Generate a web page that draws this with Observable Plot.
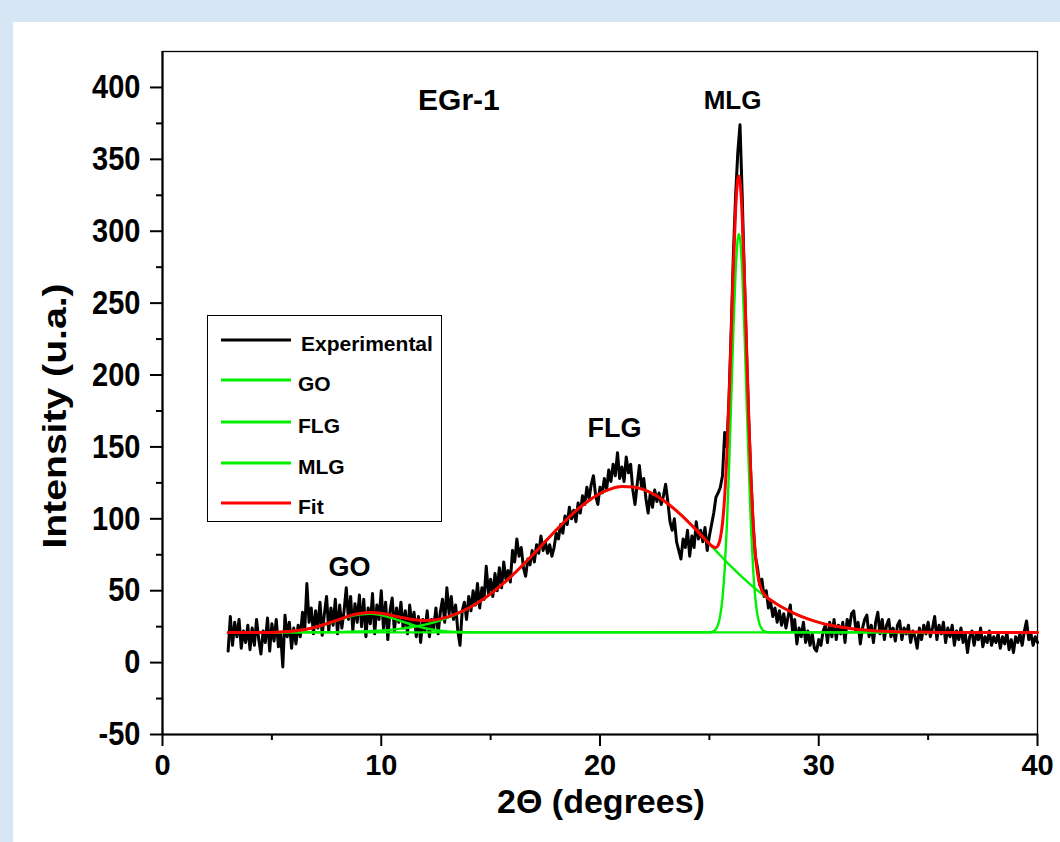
<!DOCTYPE html>
<html>
<head>
<meta charset="utf-8">
<script src="https://cdn.jsdelivr.net/npm/d3@7"></script>
<script src="https://cdn.jsdelivr.net/npm/@observablehq/plot@0.6"></script>
<style>
  html, body { margin: 0; padding: 0; width: 1060px; height: 842px; overflow: hidden;
    background: #d6e6f4; font-family: "Liberation Sans", Arial, sans-serif; }
  #panel { position: absolute; left: 13px; top: 22px; width: 1047px; height: 820px; background: #fff; }
  #chart { position: absolute; left: 0; top: 0; }
  .ttl { position: absolute; font-weight: bold; color: #000; white-space: nowrap; line-height: 1; }
  #ytitle { left: 54px; top: 416px; font-size: 34px; transform: translate(-50%, -50%) rotate(-90deg) scaleX(1.15); }
  #xtitle { left: 601px; top: 801px; font-size: 34px; transform: translate(-50%, -50%); }
  #legend { position: absolute; left: 207px; top: 315px; width: 233px; height: 205px;
    border: 1.5px solid #000; background: #fff; }
  #legend svg { position: absolute; left: 0; top: 0; }
</style>
</head>
<body>
<div id="panel"></div>
<div id="chart"></div>
<div id="ytitle" class="ttl"></div>
<div id="xtitle" class="ttl"></div>
<div id="legend"></div>
<script>
// ---------------- data ----------------
const xLabel = "2\u0398 (degrees)";
const yLabel = "Intensity (u.a.)";
const xMajor = [0, 10, 20, 30, 40];
const xMinor = [5, 15, 25, 35];
const yMajor = [-50, 0, 50, 100, 150, 200, 250, 300, 350, 400];
const yMinor = [-25, 25, 75, 125, 175, 225, 275, 325, 375];

// Experimental pattern: 2θ from 3.0 to 40.0 in 0.1° steps
const expStart = 3.0, expStep = 0.1;
const expY = [8,
  32,12,28,18,30,10,22,14,26,9,
  24,12,30,16,6,22,14,31,8,27,
  15,30,11,20,-3,33,18,28,10,24,
  13,26,18,35,22,55,28,38,20,36,
  24,42,19,34,46,22,38,26,44,20,
  40,24,36,52,30,46,22,41,28,47,
  25,44,18,38,27,48,20,40,30,50,
  24,42,16,36,45,22,38,28,42,24,
  36,20,40,26,35,18,32,14,30,22,
  36,18,30,24,38,20,35,44,28,52,
  34,46,30,40,22,12,36,42,30,46,
  36,50,40,55,38,52,44,67,48,58,
  46,62,50,66,52,70,58,64,56,78,
  70,86,74,80,66,60,72,68,78,70,
  82,76,88,78,84,76,82,74,80,90,
  86,96,90,102,96,108,100,106,98,111,
  104,116,110,122,114,124,130,116,110,122,
  118,128,120,134,126,138,130,146,128,136,
  126,143,132,138,120,110,124,137,122,128,
  114,104,118,108,120,112,118,110,116,124,
  112,98,92,100,84,78,72,86,80,92,
  74,88,80,98,86,92,84,94,78,88,
  96,104,115,118,122,130,160,150,185,232,
  285,325,355,374,325,268,215,168,128,96,
  74,66,54,58,46,50,38,42,32,38,
  28,36,26,34,24,32,40,22,30,13,
  24,18,28,14,22,12,20,10,8,16,
  12,22,26,14,28,18,30,16,26,20,
  28,14,30,24,34,36,22,28,13,24,
  30,33,18,26,14,28,35,20,30,16,
  26,30,18,24,15,26,29,16,24,20,
  26,14,22,18,10,24,16,26,20,28,
  18,24,32,16,26,20,28,14,24,18,
  26,12,22,16,24,14,20,7,18,22,
  12,20,16,24,11,18,14,22,12,18,
  14,20,10,18,13,21,9,16,7,18,
  14,20,12,22,29,16,20,12,18,14];

// Fitted components [2θ, intensity]
const goCurve = [[3,21],[5,21],[5.5,21.4],[6,22.0],[6.5,23.0],[7,24.6],[7.5,26.8],[8,29.4],[8.5,31.9],
  [9,33.5],[9.5,34.0],[10,33.0],[10.5,30.9],[11,28.4],[11.5,25.9],[12,23.9],[12.5,22.5],[13,21.7],
  [13.5,21.3],[14,21.1],[15,21],[40,21]];
const flgCurve = [[3,21],[7,21.1],[8,21.2],[9,21.6],[10,22.3],[10.5,22.9],[11,23.8],[11.5,24.9],[12,26.4],
  [12.5,28.4],[13,30.9],[13.5,34.1],[14,37.9],[14.5,42.5],[15,47.8],[15.5,54.0],[16,60.8],[16.5,68.3],
  [17,76.1],[17.5,84.2],[18,92.2],[18.5,99.9],[19,106.9],[19.5,112.8],[20,117.6],[20.5,120.8],[21,122.4],
  [21.5,122.2],[22,120.3],[22.5,116.7],[23,111.7],[23.5,105.5],[24,98.4],[24.5,90.6],[25,82.6],[25.5,74.5],
  [26,66.7],[26.5,59.4],[27,52.7],[27.5,46.7],[28,41.5],[28.5,37.1],[29,33.4],[29.5,30.4],[30,28.0],
  [30.5,26.1],[31,24.7],[31.5,23.6],[32,22.8],[32.5,22.2],[33,21.8],[33.5,21.5],[34,21.3],[34.5,21.2],
  [35,21.1],[36,21],[40,21]];
const mlgCurve = [[3,21],[25,21.1],[25.1,21.3],[25.2,21.9],[25.3,23.3],[25.4,26.5],[25.5,33.0],[25.6,45.0],
  [25.7,65.1],[25.8,95.3],[25.9,135.9],[26.0,183.6],[26.1,232.1],[26.2,272.2],[26.3,295],[26.35,298],
  [26.4,295],[26.5,272.2],[26.6,232.1],[26.7,183.6],[26.8,135.9],[26.9,95.3],[27.0,65.1],[27.1,45.0],
  [27.2,33.0],[27.3,26.5],[27.4,23.3],[27.5,21.9],[27.6,21.3],[27.7,21.1],[28,21],[40,21]];
const fitCurve = [[3,21],[5,21],[5.5,21.4],[6,22.0],[6.5,23.0],[7,24.7],[7.5,27.0],[8,29.6],[8.5,32.3],
  [9,34.1],[9.5,34.9],[10,34.3],[10.5,32.8],[11,31.2],[11.5,29.8],[12,29.3],[12.5,29.9],[13,31.6],
  [13.5,34.4],[14,38.0],[14.5,42.5],[15,47.8],[15.5,54.0],[16,60.8],[16.5,68.3],[17,76.1],[17.5,84.2],
  [18,92.2],[18.5,99.9],[19,106.9],[19.5,112.8],[20,117.6],[20.5,120.8],[21,122.4],[21.5,122.2],
  [22,120.3],[22.5,116.7],[23,111.7],[23.5,105.5],[24,98.4],[24.5,90.6],[25,82.7],[25.1,81.3],
  [25.2,80.3],[25.3,80.0],[25.4,81.6],[25.5,86.5],[25.6,96.9],[25.7,115.5],[25.8,144.1],[25.9,183.2],
  [26.0,229.3],[26.1,276.3],[26.2,314.9],[26.3,336.3],[26.35,338.5],[26.4,334.8],[26.5,310.6],
  [26.6,269.1],[26.7,219.2],[26.8,170.2],[26.9,128.3],[27.0,96.8],[27.1,75.4],[27.2,62.2],[27.3,54.5],
  [27.4,50.1],[27.5,47.6],[27.6,45.9],[27.7,44.6],[28,41.5],[28.5,37.1],[29,33.4],[29.5,30.4],[30,28.0],
  [30.5,26.1],[31,24.7],[31.5,23.6],[32,22.8],[32.5,22.2],[33,21.8],[33.5,21.5],[34,21.3],[34.5,21.2],
  [35,21.1],[36,21],[40,21]];

const peakLabels = ["EGr-1", "MLG", "FLG", "GO"];
const peakLabelX = [13.55, 26.06, 20.66, 8.55];
const peakLabelY = [391, 391, 163, 66.5];

const legendLabels = ["Experimental", "GO", "FLG", "MLG", "Fit"];
const legendColors = ["#000000", "#00ff00", "#00ff00", "#00ff00", "#ff0000"];

// ---------------- chart ----------------
const exp = expY.map((v, i) => ({t: +(expStart + i * expStep).toFixed(2), v}));
const toObj = arr => arr.map(([t, v]) => ({t, v}));
const green = "#00f000";
const font = "Liberation Sans, Arial, sans-serif";
const labelSizes = [30, 26, 27, 27];
const annos = peakLabels.map((s, i) => ({s, t: peakLabelX[i], v: peakLabelY[i]}));

const chart = Plot.plot({
  width: 1060, height: 842,
  marginLeft: 162, marginRight: 23, marginTop: 51, marginBottom: 108,
  x: {domain: [0, 40]},
  y: {domain: [-50, 425]},
  style: {background: "transparent", color: "#000", fontFamily: font},
  marks: [
    Plot.frame({stroke: "#000", strokeWidth: 1.3}),
    Plot.axisY({ticks: yMajor, tickSize: 12, tickPadding: 10, tickFormat: d => String(d),
      fontSize: 29, fontWeight: "bold", strokeWidth: 2, label: null}),
    Plot.axisY({ticks: yMinor, tickSize: 6, tickFormat: () => "", strokeWidth: 2, label: null}),
    Plot.axisX({ticks: xMajor, tickSize: 12, tickPadding: 8, tickFormat: d => String(d),
      fontSize: 29, fontWeight: "bold", strokeWidth: 2, label: null}),
    Plot.axisX({ticks: xMinor, tickSize: 6, tickFormat: () => "", strokeWidth: 2, label: null}),
    Plot.ruleX([0], {stroke: "#000", strokeWidth: 2.2}),
    Plot.ruleY([-50], {stroke: "#000", strokeWidth: 2.2}),
    Plot.line(exp, {x: "t", y: "v", stroke: "#000", strokeWidth: 3, strokeLinejoin: "round"}),
    Plot.line(toObj(goCurve), {x: "t", y: "v", stroke: green, strokeWidth: 2.4, curve: "monotone-x"}),
    Plot.line(toObj(flgCurve), {x: "t", y: "v", stroke: green, strokeWidth: 2.4, curve: "monotone-x"}),
    Plot.line(toObj(mlgCurve), {x: "t", y: "v", stroke: green, strokeWidth: 2.4, curve: "monotone-x"}),
    Plot.line(toObj(fitCurve), {x: "t", y: "v", stroke: "#ff0000", strokeWidth: 3, curve: "monotone-x"}),
    Plot.text(annos, {x: "t", y: "v", text: "s", fontSize: 26, fontWeight: "bold",
      fill: "#000", lineAnchor: "middle", textAnchor: "middle"})
  ]
});
document.getElementById("chart").appendChild(chart);

// per-label font sizes
d3.select(chart).selectAll("text").each(function () {
  const i = peakLabels.indexOf(this.textContent);
  if (i >= 0) this.setAttribute("font-size", labelSizes[i]);
});

// stretch numeric y tick labels vertically to match the reference lettering
d3.select(chart).selectAll("text").each(function () {
  const s = this.textContent;
  if (!/^-?\d+$/.test(s)) return;
  const r = this.getBoundingClientRect();
  if (r.left > 150) return; // only y-axis labels
  const cx = r.left + r.width / 2, cy = r.top + r.height / 2;
  const g = document.createElementNS("http://www.w3.org/2000/svg", "g");
  this.parentNode.insertBefore(g, this);
  g.appendChild(this);
  g.setAttribute("transform", `translate(${cx},${cy}) scale(1,1.15) translate(${-cx},${-cy})`);
});

document.getElementById("ytitle").textContent = yLabel;
document.getElementById("xtitle").textContent = xLabel;

// legend
const lg = d3.select("#legend").append("svg").attr("width", 235).attr("height", 207);
const rowY = [24, 64, 106, 147, 187];
const textX = [93, 90, 90, 90, 90];
legendLabels.forEach((s, i) => {
  lg.append("line").attr("x1", 13).attr("x2", 83).attr("y1", rowY[i]).attr("y2", rowY[i])
    .attr("stroke", legendColors[i] === "#00ff00" ? green : legendColors[i]).attr("stroke-width", 3);
  lg.append("text").attr("x", textX[i]).attr("y", rowY[i] + 11).text(s)
    .attr("font-family", font).attr("font-weight", "bold").attr("font-size", 21).attr("fill", "#000");
});
</script>
</body>
</html>
